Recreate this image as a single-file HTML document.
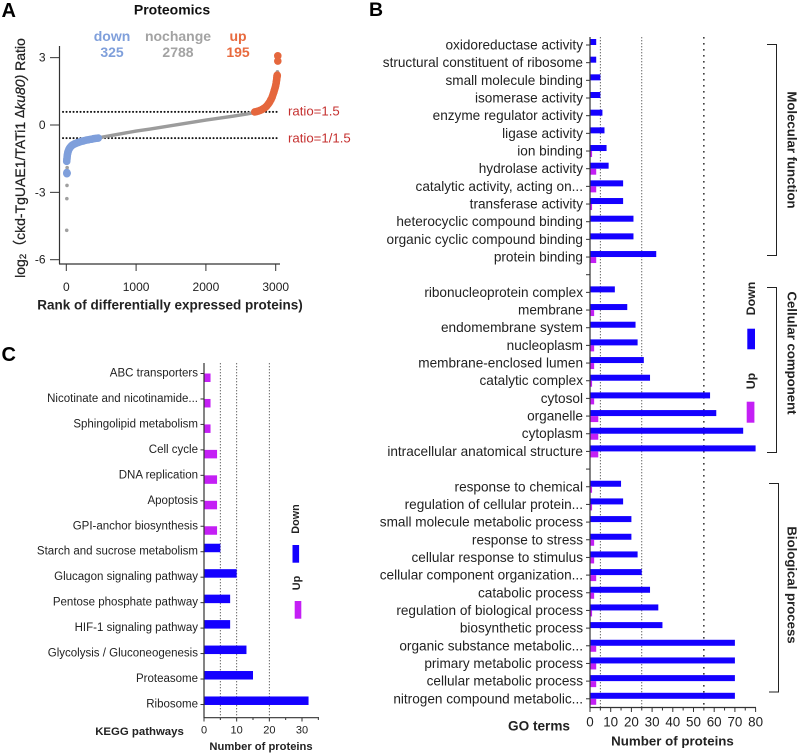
<!DOCTYPE html>
<html>
<head>
<meta charset="utf-8">
<title>Proteomics figure</title>
<style>
html,body{margin:0;padding:0;background:#fff;width:800px;height:755px;overflow:hidden}
svg{display:block;font-family:"Liberation Sans","Noto Sans CJK SC",sans-serif}
text{fill:#222;dominant-baseline:central}
.b{font-weight:bold}
</style>
</head>
<body>
<svg id="fig" width="800" height="755" viewBox="0 0 800 755" xmlns="http://www.w3.org/2000/svg">
  <text class="b" x="1.5" y="11" font-size="20" style="fill:#000">A</text>
  <text class="b" x="369" y="10" font-size="19.5" style="fill:#000">B</text>
  <text class="b" x="1.5" y="355" font-size="20" style="fill:#000">C</text>

  <text class="b" x="172" y="9.5" font-size="14" text-anchor="middle" style="fill:#111">Proteomics</text>
  <text class="b" x="112" y="36" font-size="14" text-anchor="middle" style="fill:#7f9fdb">down</text>
  <text class="b" x="112" y="52" font-size="14" text-anchor="middle" style="fill:#7f9fdb">325</text>
  <text class="b" x="178" y="36" font-size="14" text-anchor="middle" style="fill:#a3a3a3">nochange</text>
  <text class="b" x="178" y="52" font-size="14" text-anchor="middle" style="fill:#a3a3a3">2788</text>
  <text class="b" x="238" y="36" font-size="14" text-anchor="middle" style="fill:#e86a3e">up</text>
  <text class="b" x="238" y="52" font-size="14" text-anchor="middle" style="fill:#e86a3e">195</text>
  <text x="288" y="111" font-size="13.2" style="fill:#c5302f">ratio=1.5</text>
  <text x="288" y="138" font-size="13.2" style="fill:#c5302f">ratio=1/1.5</text>
  <text transform="translate(20,158) rotate(-90)" font-size="14" text-anchor="middle" stroke="#222" stroke-width="0.25">log<tspan font-size="9.5" dy="3">2</tspan><tspan dy="-3">（ckd-TgUAE1/TATi1 </tspan><tspan font-family="'DejaVu Sans',sans-serif" font-size="12">Δ</tspan><tspan font-style="italic">ku80)</tspan> Ratio</text>
  <text class="b" x="170" y="305" font-size="13.5" text-anchor="middle">Rank of differentially expressed proteins)</text>

  <text class="b" transform="translate(792,150) rotate(90)" font-size="13.2" text-anchor="middle">Molecular function</text>
  <text class="b" transform="translate(792,353) rotate(90)" font-size="13.2" text-anchor="middle">Cellular component</text>
  <text class="b" transform="translate(792,585) rotate(90)" font-size="13.2" text-anchor="middle">Biological process</text>
  <path d="M767 44.5H776.5V255.5H767" fill="none" stroke="#222" stroke-width="1"/>
  <path d="M767 287.5H776.5V452.5H767" fill="none" stroke="#222" stroke-width="1"/>
  <path d="M769 483.5H778.5V692H769" fill="none" stroke="#222" stroke-width="1"/>

  <text class="b" transform="translate(751,298.5) rotate(-90)" font-size="12.4" text-anchor="middle">Down</text>
  <rect x="747.3" y="328.7" width="7.7" height="20.6" fill="#1400ff"/>
  <text class="b" transform="translate(751,381) rotate(-90)" font-size="12.4" text-anchor="middle">Up</text>
  <rect x="746.7" y="401.7" width="7.7" height="21" fill="#c41ff5"/>
  <text class="b" x="539" y="726" font-size="13.6" text-anchor="middle">GO terms</text>
  <text class="b" x="672.5" y="741" font-size="13.3" text-anchor="middle">Number of proteins</text>

  <text class="b" transform="translate(296,519) rotate(-90)" font-size="10.8" text-anchor="middle">Down</text>
  <rect x="292.5" y="545" width="6.6" height="17.7" fill="#1400ff"/>
  <text class="b" transform="translate(297,583) rotate(-90)" font-size="10.8" text-anchor="middle">Up</text>
  <rect x="294.7" y="601" width="6.6" height="17.7" fill="#c41ff5"/>
  <text class="b" x="139.5" y="732" font-size="11.4" text-anchor="middle">KEGG pathways</text>
  <text class="b" x="261" y="747" font-size="11.2" text-anchor="middle">Number of proteins</text>
</svg>
<script>
// ---- Panel A data ----
var rankTicks = [0, 1000, 2000, 3000];
var ratioTicks = [3, 0, -3, -6];
var ratioThresholds = [0.585, -0.585];
var outlierRanks = [6, 8, 10, 12, 3025];
var outlierValues = [-4.69, -3.28, -2.69, -1.9, 2.37];
var downRanks = [8, 8, 12, 6, 8, 10, 12, 14, 17, 20, 24, 28, 33, 38, 44, 50, 57, 65, 74, 84, 95, 107, 120, 135, 150, 168, 186, 205, 225, 245, 265, 290, 315, 340, 365, 390, 415, 440, 458];
var downValues = [-2.17, -2.12, -2.15, -1.62, -1.55, -1.48, -1.42, -1.36, -1.3, -1.25, -1.2, -1.16, -1.12, -1.08, -1.05, -1.02, -0.99, -0.96, -0.93, -0.9, -0.88, -0.86, -0.84, -0.82, -0.8, -0.78, -0.76, -0.74, -0.72, -0.71, -0.69, -0.67, -0.66, -0.64, -0.63, -0.61, -0.6, -0.59, -0.58];
var nochangeRanks = [460, 600, 800, 1000, 1200, 1400, 1600, 1800, 2000, 2200, 2400, 2600, 2720];
var nochangeValues = [-0.57, -0.49, -0.38, -0.27, -0.18, -0.08, 0.02, 0.12, 0.22, 0.31, 0.4, 0.5, 0.57];
var upRanks = [2700, 2725, 2750, 2775, 2800, 2820, 2840, 2860, 2875, 2890, 2905, 2918, 2930, 2940, 2950, 2958, 2966, 2974, 2980, 2986, 2992, 2997, 3001, 3005, 3008, 3011, 3014, 3016, 3018, 3020, 3020, 3022, 3030, 3030];
var upValues = [0.58, 0.6, 0.62, 0.65, 0.68, 0.72, 0.76, 0.81, 0.86, 0.92, 0.98, 1.05, 1.12, 1.18, 1.25, 1.33, 1.4, 1.47, 1.54, 1.6, 1.66, 1.72, 1.78, 1.84, 1.9, 1.96, 2.02, 2.08, 2.13, 2.17, 2.2, 2.22, 2.85, 3.08];

// ---- Panel B data ----
var goTerms = ["oxidoreductase activity", "structural constituent of ribosome", "small molecule binding", "isomerase activity", "enzyme regulator activity", "ligase activity", "ion binding", "hydrolase activity", "catalytic activity, acting on...", "transferase activity", "heterocyclic compound binding", "organic cyclic compound binding", "protein binding", "", "ribonucleoprotein complex", "membrane", "endomembrane system", "nucleoplasm", "membrane-enclosed lumen", "catalytic complex", "cytosol", "organelle", "cytoplasm", "intracellular anatomical structure", "", "response to chemical", "regulation of cellular protein...", "small molecule metabolic process", "response to stress", "cellular response to stimulus", "cellular component organization...", "catabolic process", "regulation of biological process", "biosynthetic process", "organic substance metabolic...", "primary metabolic process", "cellular metabolic process", "nitrogen compound metabolic..."];
var goDown = [3, 3, 5, 5, 6, 7, 8, 9, 16, 16, 21, 21, 32, 0, 12, 18, 22, 23, 26, 29, 58, 61, 74, 80, 0, 15, 16, 20, 20, 23, 25, 29, 33, 35, 70, 70, 70, 70];
var goUp = [0, 0, 0, 0, 0, 0, 1, 3, 3, 1, 0, 0, 3, 0, 0, 2, 0, 2, 2, 1, 2, 4, 4, 4, 0, 1, 1, 0, 2, 2, 3, 2, 1, 0, 3, 3, 3, 3];
var goTicks = [0, 10, 20, 30, 40, 50, 60, 70, 80];
var goMinorTicks = [5, 15, 25, 35, 45, 55, 65, 75];
var goRefLines = [5, 25, 55];

// ---- Panel C data ----
var keggTerms = ["ABC transporters", "Nicotinate and nicotinamide...", "Sphingolipid metabolism", "Cell cycle", "DNA replication", "Apoptosis", "GPI-anchor biosynthesis", "Starch and sucrose metabolism", "Glucagon signaling pathway", "Pentose phosphate pathway", "HIF-1 signaling pathway", "Glycolysis / Gluconeogenesis", "Proteasome", "Ribosome"];
var keggDown = [0, 0, 0, 0, 0, 0, 0, 5, 10, 8, 8, 13, 15, 32];
var keggUp = [2, 2, 2, 4, 4, 4, 4, 0, 0, 0, 0, 0, 0, 0];
var keggTicks = [0, 10, 20, 30];
var keggMinorTicks = [5, 15, 25, 35];
var keggRefLines = [5, 10, 20];

var svg = document.getElementById('fig');
var NS = 'http://www.w3.org/2000/svg';
function add(tag, attrs, txt) {
  var n = document.createElementNS(NS, tag);
  for (var k in attrs) n.setAttribute(k, attrs[k]);
  if (txt !== undefined) n.textContent = txt;
  svg.appendChild(n);
  return n;
}
function line(x1, y1, x2, y2, color, w, dash, cap) {
  var a = {x1: x1, y1: y1, x2: x2, y2: y2, stroke: color, 'stroke-width': w};
  if (dash) a['stroke-dasharray'] = dash;
  if (cap) a['stroke-linecap'] = cap;
  return add('line', a);
}
var el, i;

// ---- Panel A scales ----
function ax(r) { return 66.3 + 0.0698 * r; }
function ay(v) { return 125 - 22.45 * v; }

el = line(59.5, 46, 59.5, 264, '#333', 1.2);


el = line(59, 264, 280, 264, '#333', 1.2);


ratioTicks.forEach(function (t) {
  el = line(50, ay(t), 59.5, ay(t), '#333', 1);
  
  
  el = add('text', {x: 45.5, y: ay(t), 'font-size': 12, 'text-anchor': 'end'}, String(t));
  
  
});
rankTicks.forEach(function (t) {
  el = line(ax(t), 264, ax(t), 271, '#333', 1);
  
  
  el = add('text', {x: ax(t), y: 287, 'font-size': 12, 'text-anchor': 'middle'}, String(t));
  
  
});
ratioThresholds.forEach(function (v) {
  el = line(63, ay(v), 279, ay(v), '#111', 2, '0.1 3.4', 'round');
  
  
});
for (i = 0; i < outlierRanks.length; i++) {
  el = add('circle', {cx: ax(outlierRanks[i]), cy: ay(outlierValues[i]), r: 1.8, fill: '#a0a0a0'});
  
  
}
var grayPts = nochangeRanks.map(function (r, k) { return ax(r) + ',' + ay(nochangeValues[k]); }).join(' ');
el = add('polyline', {points: grayPts, fill: 'none', stroke: '#9c9c9c', 'stroke-width': 3.4});


for (i = 0; i < downRanks.length; i++) {
  el = add('circle', {cx: ax(downRanks[i]), cy: ay(downValues[i]), r: 3.8, fill: '#7f9fdb'});
  
  
}
for (i = 0; i < upRanks.length; i++) {
  el = add('circle', {cx: ax(upRanks[i]), cy: ay(upValues[i]), r: 3.8, fill: '#e5673d'});
  
  
}

// ---- Panel B scales ----
function bx(v) { return 590 + 2.07 * v; }
function by(k) { return 45 + 17.67 * k; }
goRefLines.forEach(function (v, k) {
  el = line(bx(v), 37, bx(v), 707, k === 2 ? '#222' : '#555', k === 2 ? 1.4 : 0.9, k === 2 ? '1.6 4.4' : '1.4 1.6');
  
  
});
goTerms.forEach(function (name, k) {
  el = line(586, by(k), 590, by(k), '#333', 1);
  
  
  if (name) {
    el = add('text', {x: 583, y: by(k), 'font-size': 13.6, 'text-anchor': 'end'}, name);
    
    
  }
  if (goDown[k] > 0) {
    el = add('rect', {x: bx(0), y: by(k) - 6, width: bx(goDown[k]) - bx(0), height: 6, fill: '#1400ff'});
    
    
  }
  if (goUp[k] > 0) {
    el = add('rect', {x: bx(0), y: by(k), width: bx(goUp[k]) - bx(0), height: 6, fill: '#c41ff5'});
    
    
  }
});
el = line(590, 37, 590, 707.5, '#333', 1.2);


el = line(589.5, 707.5, 756, 707.5, '#333', 1.2);


goTicks.forEach(function (t) {
  el = line(bx(t), 707.5, bx(t), 712, '#333', 1);
  
  
  el = add('text', {x: bx(t), y: 722, 'font-size': 13.4, 'text-anchor': 'middle'}, String(t));
  
  
});
goMinorTicks.forEach(function (t) {
  el = line(bx(t), 707.5, bx(t), 710.5, '#333', 1);
  
  
});

// ---- Panel C scales ----
function cx(v) { return 204 + 3.267 * v; }
function cy(k) { return 373.5 + 25.46 * k; }
keggRefLines.forEach(function (v) {
  el = line(cx(v), 363, cx(v), 717, '#555', 0.9, '1.4 1.6');
  
  
});
keggTerms.forEach(function (name, k) {
  el = line(200.5, cy(k), 204, cy(k), '#333', 1);
  
  
  el = add('text', {x: 198, y: cy(k), 'font-size': 11.5, 'text-anchor': 'end'}, name);
  
  
  if (keggDown[k] > 0) {
    el = add('rect', {x: cx(0), y: cy(k) - 8, width: cx(keggDown[k]) - cx(0), height: 8.5, fill: '#1400ff'});
    
    
  }
  if (keggUp[k] > 0) {
    el = add('rect', {x: cx(0), y: cy(k), width: cx(keggUp[k]) - cx(0), height: 8.5, fill: '#c41ff5'});
    
    
  }
});
el = line(204, 363, 204, 718, '#333', 1.2);


el = line(203.5, 717.7, 319, 717.7, '#333', 1.2);


keggTicks.forEach(function (t) {
  el = line(cx(t), 717.7, cx(t), 721.5, '#333', 1);
  
  
  el = add('text', {x: cx(t), y: 730.5, 'font-size': 11, 'text-anchor': 'middle'}, String(t));
  
  
});
keggMinorTicks.forEach(function (t) {
  el = line(cx(t), 717.7, cx(t), 720, '#333', 1);
  
  
});
</script>
</body>
</html>
